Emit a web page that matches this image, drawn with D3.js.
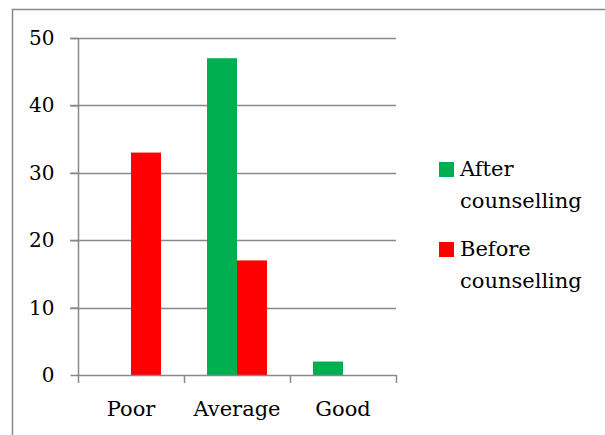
<!DOCTYPE html>
<html><head><meta charset="utf-8">
<script src="https://cdn.jsdelivr.net/npm/d3@7"></script>
<style>html,body{margin:0;padding:0;background:#fff;}svg{display:block;}</style>
</head><body>
<svg id="c" width="605" height="435"></svg>
<script>
const categories = ["Poor", "Average", "Good"];
const seriesNames = ["After counselling", "Before counselling"];
const afterValues = [0, 47, 2];
const beforeValues = [33, 17, 0];
const yTicks = [0, 10, 20, 30, 40, 50];
const colors = ["#00b050", "#ff0000"];

const svg = d3.select("#c");
const font = "'DejaVu Serif'";
const axisColor = "#898989";

svg.append("rect").attr("x", 12.5).attr("y", 9.5).attr("width", 700).attr("height", 500)
  .attr("fill", "none").attr("stroke", axisColor).attr("stroke-width", 1.5);

const x = d3.scaleBand().domain(categories).range([78, 396]);
const y = d3.scaleLinear().domain([0, 50]).range([375, 38]);
const x1 = d3.scaleBand().domain(seriesNames).range([x.bandwidth()/2 - 30, x.bandwidth()/2 + 30]);

// gridlines
svg.append("g").selectAll("line").data(yTicks.filter(d => d > 0)).join("line")
  .attr("x1", 70).attr("x2", 396).attr("y1", d => Math.round(y(d)) + 0.5).attr("y2", d => Math.round(y(d)) + 0.5)
  .attr("stroke", axisColor).attr("stroke-width", 1.5);

const data = categories.map((c, i) => ({cat: c, vals: [afterValues[i], beforeValues[i]]}));
const g = svg.append("g");
data.forEach(d => {
  d.vals.forEach((v, j) => {
    if (v <= 0) return;
    g.append("rect")
      .attr("x", x(d.cat) + x1(seriesNames[j]))
      .attr("y", y(v))
      .attr("width", x1.bandwidth())
      .attr("height", y(0) - y(v))
      .attr("fill", colors[j]);
  });
});

// y axis
const yAxis = svg.append("g").attr("transform", "translate(78.5,0)")
  .call(d3.axisLeft(y).tickValues(yTicks).tickSize(8).tickPadding(16).tickFormat(d3.format("d")));
yAxis.select(".domain").attr("stroke", axisColor).attr("stroke-width", 1.5).attr("d", "M0,38V375");
yAxis.selectAll(".tick line").attr("stroke", axisColor).attr("stroke-width", 1.5);
yAxis.selectAll("text").style("font-family", font).style("font-size", "20px").attr("fill", "#000");

// x axis
const xAxis = svg.append("g").attr("transform", "translate(0,375.5)")
  .call(d3.axisBottom(x).tickSize(0).tickPadding(26));
xAxis.select(".domain").attr("stroke", axisColor).attr("stroke-width", 1.5).attr("d", "M78,0H396");
xAxis.selectAll("text").style("font-family", font).style("font-size", "21px").attr("fill", "#000");
svg.append("g").selectAll("line").data(x.domain().concat(["end"])).join("line")
  .attr("x1", (d, i) => (i < 3 ? x(d) : x.range()[1]) + 0.5)
  .attr("x2", (d, i) => (i < 3 ? x(d) : x.range()[1]) + 0.5)
  .attr("y1", 375).attr("y2", 383).attr("stroke", axisColor).attr("stroke-width", 1.5);

// legend
const leg = svg.append("g");
seriesNames.forEach((s, i) => {
  const gy = 162 + i * 80;
  leg.append("rect").attr("x", 439).attr("y", gy).attr("width", 15).attr("height", 15).attr("fill", colors[i]);
  const words = s.split(" ");
  const t = leg.append("text").style("font-family", font).style("font-size", "21px").attr("fill", "#000");
  t.append("tspan").attr("x", 460).attr("y", gy + 14).text(words[0]);
  t.append("tspan").attr("x", 460).attr("y", gy + 46).text(words[1]);
});
</script>
</body></html>
